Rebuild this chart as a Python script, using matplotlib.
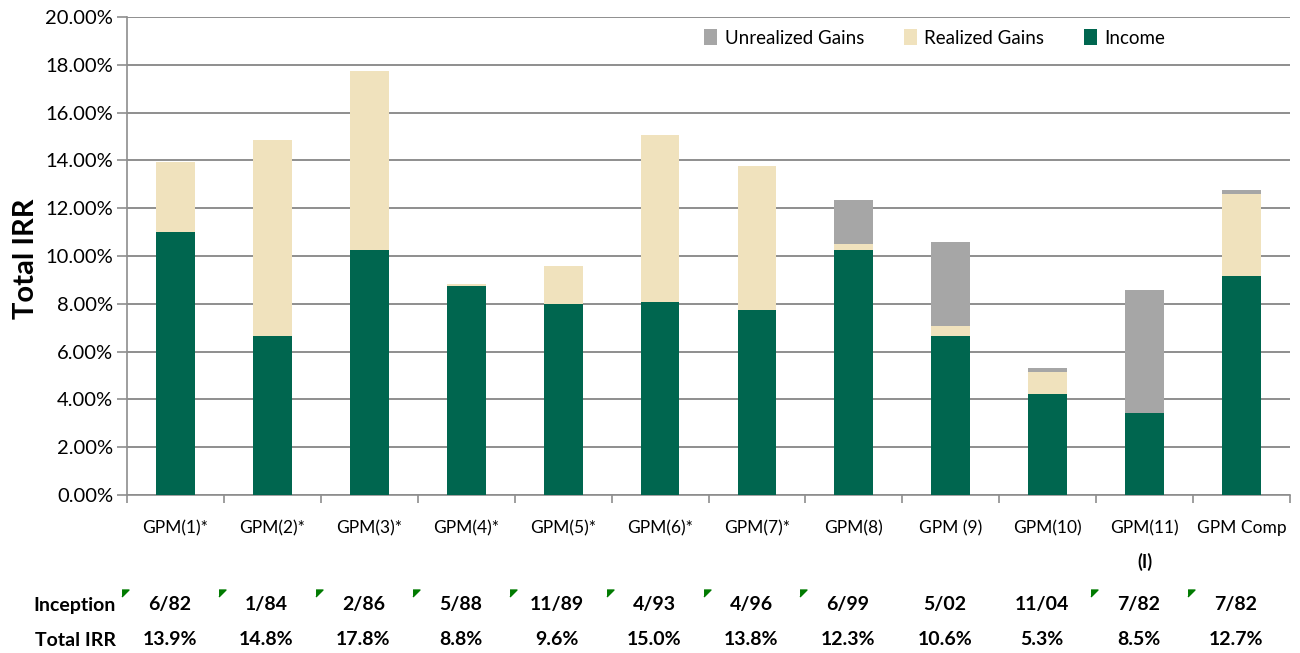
import numpy as np
import matplotlib
matplotlib.use('Agg')
import matplotlib.pyplot as plt
from matplotlib.transforms import blended_transform_factory

plt.rcParams['font.family'] = ['Lato', 'DejaVu Sans']

# data (percent)
funds = ['GPM(1)*', 'GPM(2)*', 'GPM(3)*', 'GPM(4)*', 'GPM(5)*', 'GPM(6)*',
         'GPM(7)*', 'GPM(8)', 'GPM (9)', 'GPM(10)', 'GPM(11)', 'GPM Comp']
income = [11.0, 6.65, 10.25, 8.74, 7.99, 8.08, 7.72, 10.25, 6.65, 4.21, 3.45, 9.15]
realized = [2.95, 8.2, 7.5, 0.1, 1.6, 6.98, 6.05, 0.25, 0.42, 0.92, 0.0, 3.45]
unrealized = [0.0, 0.0, 0.0, 0.0, 0.0, 0.0, 0.0, 1.85, 3.52, 0.17, 5.12, 0.17]
inception = ['6/82', '1/84', '2/86', '5/88', '11/89', '4/93', '4/96', '6/99',
             '5/02', '11/04', '7/82', '7/82']
total_irr = ['13.9%', '14.8%', '17.8%', '8.8%', '9.6%', '15.0%', '13.8%', '12.3%',
             '10.6%', '5.3%', '8.5%', '12.7%']
has_note = [1, 1, 1, 1, 1, 1, 1, 1, 0, 0, 1, 1]

c_income = '#00664F'
c_real = '#F0E2BD'
c_unreal = '#A6A6A6'
grid_c = '#8E8E8E'

fig = plt.figure(figsize=(13, 6.53), dpi=100)
ax = fig.add_axes([127/1300, 1-495/653, (1290-127)/1300, 478/653])

x = np.arange(len(funds))
inc = np.array(income)
rea = np.array(realized)
unr = np.array(unrealized)
w = 0.4
b_inc = ax.bar(x, inc, w, color=c_income, label='Income', zorder=3)
b_rea = ax.bar(x, rea, w, bottom=inc, color=c_real, label='Realized Gains', zorder=3)
b_unr = ax.bar(x, unr, w, bottom=inc+rea, color=c_unreal, label='Unrealized Gains', zorder=3)

ax.set_xlim(-0.5, len(funds)-0.5)
ax.set_ylim(0, 20)
ax.set_yticks(np.arange(0, 20.1, 2))
ax.set_yticklabels([f'{v:.2f}%' for v in np.arange(0, 20.1, 2)], fontsize=14.5)
ax.yaxis.grid(True, color=grid_c, linewidth=1.4, zorder=0)
ax.set_axisbelow(True)
for s in ['top', 'right']:
    ax.spines[s].set_visible(False)
for s in ['left', 'bottom']:
    ax.spines[s].set_color(grid_c)
    ax.spines[s].set_linewidth(1.2)
ax.tick_params(axis='y', length=7, color=grid_c, width=1.2, pad=3)

ax.set_xticks(x)
ax.set_xticklabels(funds, fontsize=12.5)
ax.set_xticks(np.arange(-0.5, len(funds), 1), minor=True)
ax.tick_params(axis='x', which='major', length=0, pad=18)
ax.tick_params(axis='x', which='minor', length=6, color=grid_c, width=1.2)

fig.text(26/1300, 1-259/653, 'Total IRR', rotation=90, ha='center', va='center',
         fontsize=21, fontweight='bold')

ax.legend(handles=[b_unr, b_rea, b_inc], ncol=3, frameon=False, fontsize=13.5,
          loc='center right', bbox_to_anchor=(1182/1300, 1-38/653),
          bbox_transform=fig.transFigure, handlelength=0.7, handleheight=0.9,
          handletextpad=0.4, columnspacing=2.1)

# table below the chart
tr = blended_transform_factory(ax.transData, ax.transAxes)
ax.text(10, -0.14, '(I)', transform=tr, ha='center', va='center',
        fontsize=13, fontweight='bold')
for i in range(len(funds)):
    ax.text(i - 0.06, -0.23, inception[i], transform=tr, ha='center', va='center',
            fontsize=14, fontweight='bold')
    ax.text(i - 0.06, -0.303, total_irr[i], transform=tr, ha='center', va='center',
            fontsize=14, fontweight='bold')
    if has_note[i]:
        ax.plot(i - 0.52, -0.205, transform=tr, marker=[(-1, 1), (1, 1), (-1, -1)],
                markersize=5, color='#007A00', clip_on=False, linestyle='none')
fig.text(116/1300, 1-605/653, 'Inception', ha='right', va='center',
         fontsize=14, fontweight='bold')
fig.text(116/1300, 1-640/653, 'Total IRR', ha='right', va='center',
         fontsize=14, fontweight='bold')

fig.savefig('out.png', dpi=100)
